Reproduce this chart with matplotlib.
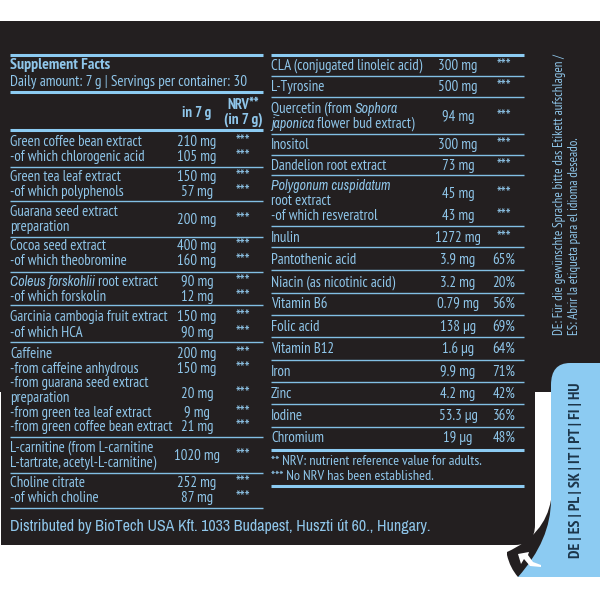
import matplotlib
matplotlib.use("Agg")
import matplotlib.pyplot as plt
from matplotlib import font_manager as fm
from matplotlib.patches import PathPatch, Rectangle
from matplotlib.path import Path

installed = set(f.name for f in fm.fontManager.ttflist)
NARROW = [c for c in ["PT Sans Narrow", "Archivo Narrow", "Liberation Sans"] if c in installed][0]
WIDE = [c for c in ["Archivo Narrow", "PT Sans Narrow", "Liberation Sans"] if c in installed][0]

# left table
left_names = ["Green coffee bean extract", "-of which chlorogenic acid",
              "Green tea leaf extract", "-of which polyphenols",
              "Guarana seed extract", "preparation",
              "Cocoa seed extract", "-of which theobromine",
              "*Coleus forskohlii* root extract", "-of which forskolin",
              "Garcinia cambogia fruit extract", "-of which HCA",
              "Caffeine", "-from caffeine anhydrous", "-from guarana seed extract", "preparation",
              "-from green tea leaf extract", "-from green coffee bean extract",
              "L-carnitine (from L-carnitine", "L-tartrate, acetyl-L-carnitine)",
              "Choline citrate", "-of which choline"]
left_name_y = [141, 156, 176, 191, 211, 226, 245, 260, 281, 296, 316, 332, 353, 368, 382, 397, 412, 426, 447, 462, 482, 497]
left_amounts = ["210 mg", "105 mg", "150 mg", "57 mg", "200 mg", "400 mg", "160 mg", "90 mg", "12 mg",
                "150 mg", "90 mg", "200 mg", "150 mg", "20 mg", "9 mg", "21 mg", "1020 mg", "252 mg", "87 mg"]
left_amount_y = [141, 156, 176, 191, 219, 245, 260, 281, 296, 316, 332, 353, 368, 393, 412, 426, 455, 482, 497]
left_rules = [167, 201, 237, 271.5, 305, 342, 437, 473, 508]
left_thick = [54.5, 92, 129.5]

# right table
right_names = ["CLA (conjugated linoleic acid)", "L-Tyrosine", "Quercetin (from *Sophora*", "*japonica* flower bud extract)",
               "Inositol", "Dandelion root extract", "*Polygonum cuspidatum*", "root extract", "-of which resveratrol",
               "Inulin", "Pantothenic acid", "Niacin (as nicotinic acid)", "Vitamin B6", "Folic acid", "Vitamin B12",
               "Iron", "Zinc", "Iodine", "Chromium"]
right_name_y = [65, 86, 108, 123, 144, 165, 185, 200, 215, 237, 259, 282, 303, 326, 348, 371, 393, 415, 437]
right_amounts = ["300 mg", "500 mg", "94 mg", "300 mg", "73 mg", "45 mg", "43 mg", "1272 mg", "3.9 mg", "3.2 mg",
                 "0.79 mg", "138 µg", "1.6 µg", "9.9 mg", "4.2 mg", "53.3 µg", "19 µg"]
right_nrv = ["***", "***", "***", "***", "***", "***", "***", "***", "65%", "20%",
             "56%", "69%", "64%", "71%", "42%", "36%", "48%"]
right_amount_y = [65, 86, 116, 144, 165, 193, 215, 237, 259, 282, 303, 326, 348, 371, 393, 415, 437]
right_rules = [76, 97, 134, 155, 175, 226, 247, 270, 293, 315, 337, 360, 382, 404, 427]
right_thick = [54.5, 450, 486]

languages = "DE | ES | PL | SK | IT | PT | FI | HU"

DARK = "#231f20"
BLUE = "#8ccbf2"
TEXT = "#8fc6ea"
RULE = "#82bfe4"
FS = 10.7

fig = plt.figure(figsize=(6, 6), dpi=100, facecolor="white")
ax = fig.add_axes([0, 0, 1, 1])
ax.set_xlim(0, 600)
ax.set_ylim(600, 0)
ax.axis("off")

# dark panel with the stepped lower right corner
ax.add_patch(Rectangle((0, 21), 600, 371, fc=DARK, ec="none"))
panel = Path([(1, 392), (535, 392), (535, 525), (535, 545), (515, 545), (1, 545), (1, 392)],
             [Path.MOVETO, Path.LINETO, Path.LINETO, Path.CURVE3, Path.CURVE3, Path.LINETO, Path.CLOSEPOLY])
ax.add_patch(PathPatch(panel, fc=DARK, ec="none"))

# black arrow under the tab
arrow = Path([(551, 500), (545, 535), (507, 552), (507, 555), (510, 568), (518, 577), (560, 577), (551, 500)],
             [Path.MOVETO, Path.CURVE3, Path.CURVE3, Path.LINETO, Path.CURVE3, Path.CURVE3, Path.LINETO, Path.CLOSEPOLY])
ax.add_patch(PathPatch(arrow, fc=DARK, ec="none"))

# blue language tab
tab = Path([(600, 363), (570, 363), (551, 363), (551, 385), (551, 500), (551, 540), (518, 577), (600, 577), (600, 363)],
           [Path.MOVETO, Path.LINETO, Path.CURVE3, Path.CURVE3, Path.LINETO, Path.CURVE3, Path.CURVE3, Path.LINETO, Path.CLOSEPOLY])
ax.add_patch(PathPatch(tab, fc=BLUE, ec="none"))

# small white arrow
white = Path([(518, 554), (529, 552), (528, 555), (533, 562), (541, 565), (541, 567), (530, 566), (524, 559), (521, 564), (518, 554)],
             [Path.MOVETO] + [Path.LINETO] * 8 + [Path.CLOSEPOLY])
ax.add_patch(PathPatch(white, fc="white", ec="none"))


def put(x, y, s, ha="left", size=FS, color=TEXT, weight="normal", family=NARROW):
    return ax.text(x, y + 5, s, ha=ha, va="baseline", fontsize=size, color=color, fontweight=weight, family=family)


def put_nrv(x, y, s):
    # the asterisks are set larger than the percentages
    if s == "***":
        put(x, y + 1, s, ha="center", size=12)
    else:
        put(x, y, s, ha="center")


def put_mixed(x, y, s):
    # *...* marks the italic part of a line
    r = fig.canvas.get_renderer()
    for i, part in enumerate(s.split("*")):
        if not part:
            continue
        # PT Sans Narrow has no italic, so the italic words use Archivo Narrow
        italic = i % 2 == 1
        t = ax.text(x, y + 5, part.strip(), ha="left", va="baseline", fontsize=10 if italic else FS, color=TEXT,
                    family=WIDE if italic else NARROW, fontstyle="italic" if italic else "normal")
        x += t.get_window_extent(r).width + 3


for y in left_thick:
    ax.plot([10, 263], [y, y], color=BLUE, lw=2.2, solid_capstyle="butt")
for y in left_rules:
    ax.plot([10, 263], [y, y], color=RULE, lw=1.0, solid_capstyle="butt")
for y in right_thick:
    ax.plot([271, 524], [y, y], color=BLUE, lw=2.2, solid_capstyle="butt")
for y in right_rules:
    ax.plot([271, 524], [y, y], color=RULE, lw=1.0, solid_capstyle="butt")

put(10, 64, "Supplement Facts", weight="bold", size=11.4)
put(10, 81, "Daily amount: 7 g | Servings per container: 30", size=10.9)
put(197, 112, "in 7 g", ha="center", weight="bold")
put(243, 104, "NRV**", ha="center", weight="bold", size=10.5)
put(243, 119, "(in 7 g)", ha="center", weight="bold", size=11)

for s, y in zip(left_names, left_name_y):
    put_mixed(10, y, s)
for s, y in zip(left_amounts, left_amount_y):
    put(197, y, s, ha="center")
    put_nrv(243, y, "***")

for s, y in zip(right_names, right_name_y):
    put_mixed(271, y, s)
for s, n, y in zip(right_amounts, right_nrv, right_amount_y):
    put(458, y, s, ha="center")
    put_nrv(504, y, n)

put(271, 460, "** NRV: nutrient reference value for adults.", size=10.4)
put(271, 475, "*** No NRV has been established.", size=10.4)
put(10, 526, "Distributed by BioTech USA Kft. 1033 Budapest, Huszti út 60., Hungary.", size=11.5, family=WIDE)

ax.text(563, 335, "DE: Für die gewünschte Sprache bitte das Etikett aufschlagen /", rotation=90, rotation_mode="anchor",
        ha="left", va="baseline", fontsize=9.4, color=TEXT, family=NARROW)
ax.text(578, 335, "ES: Abrir la etiqueta para el idioma deseado.", rotation=90, rotation_mode="anchor",
        ha="left", va="baseline", fontsize=9.4, color=TEXT, family=NARROW)
ax.text(580, 558, languages, rotation=90, rotation_mode="anchor", ha="left", va="baseline",
        fontsize=11.3, color="#1c3549", fontweight="bold", family=NARROW)

fig.savefig("out.png", dpi=100)
